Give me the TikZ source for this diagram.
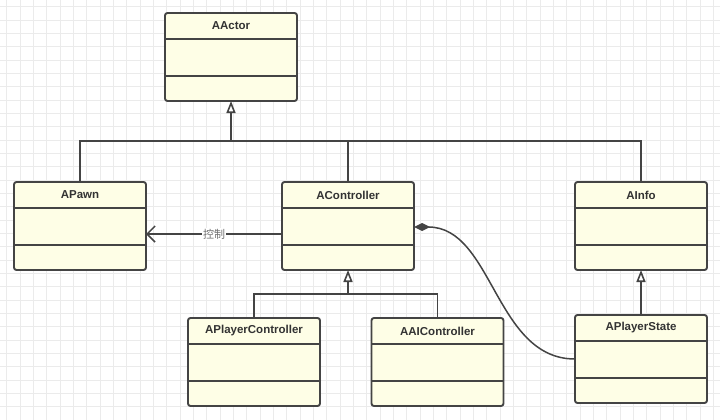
\documentclass[tikz,border=0pt]{standalone}
\usepackage{fontspec}
\setmainfont{Liberation Sans}
\newfontfamily\cjkfont{Noto Sans CJK SC}
\usetikzlibrary{arrows.meta}
\definecolor{boxfill}{HTML}{FEFEE6}
\definecolor{boxline}{HTML}{444444}
\definecolor{gridc}{HTML}{EBEBEB}
\definecolor{titlec}{HTML}{333333}
\definecolor{labelc}{HTML}{707070}
\tikzset{
  classbox/.style={draw=boxline, fill=boxfill, line width=1.9pt, rounded corners=2.5pt,
    minimum width=132pt, minimum height=88pt, inner sep=0pt, outer sep=0pt},
  titletext/.style={font=\bfseries\fontsize{11.5}{13}\selectfont, text=titlec, inner sep=0pt},
  sepline/.style={draw=boxline, line width=1.8pt},
  conn/.style={draw=boxline, line width=1.8pt},
  inherit/.style={conn, -{Triangle[open, length=12pt, width=9pt, line width=1.6pt]}},
}
\newcommand\umlbox[4]{%
  \node[classbox] (#1) at (#2,#3) {};
  \node[titletext] (#1-t) at ([yshift=-13pt]#1.north) {#4};
  \draw[sepline] ([yshift=-26pt]#1.north west) -- ([yshift=-26pt]#1.north east);
  \draw[sepline] ([yshift=-63pt]#1.north west) -- ([yshift=-63pt]#1.north east);
}
\begin{document}
\begin{tikzpicture}[x=1pt,y=-1pt]
\useasboundingbox (0,0) rectangle (720,420);
\fill[white] (0,0) rectangle (720,420);
\foreach \i in {0,...,54} {
  \draw[gridc, line width=0.8pt] (6.67+13.333*\i,0) -- (6.67+13.333*\i,420);
}
\foreach \i in {0,...,31} {
  \draw[gridc, line width=0.8pt] (0,6.67+13.333*\i) -- (720,6.67+13.333*\i);
}

\umlbox{AActor}{231}{57}{AActor}
\umlbox{APawn}{80}{226}{APawn}
\umlbox{AController}{348}{226}{AController}
\umlbox{AInfo}{641}{226}{AInfo}
\umlbox{APlayerController}{254}{362}{APlayerController}
\umlbox{AAIController}{437.5}{362}{AAIController}
\umlbox{APlayerState}{641}{359}{APlayerState}

% AActor hierarchy
\coordinate (j1) at (231,141);
\draw[conn] (APawn.north) |- (j1) -| (AInfo.north);
\draw[conn] (AController.north) -- (AController.north |- j1);
\draw[inherit] (j1) -- (AActor.south);

% AController hierarchy
\coordinate (j2) at (348,294);
\draw[conn] (APlayerController.north) |- (j2) -| (AAIController.north);
\draw[inherit] (j2) -- (AController.south);

% APlayerState -> AInfo
\draw[inherit] (APlayerState.north) -- (AInfo.south);

% control association
\draw[conn, line width=1.5pt, -{Straight Barb[length=8pt, width=16pt, line width=1.5pt]}]
  ([yshift=-8pt]AController.west) -- node[fill=white, inner sep=1pt, text=labelc,
  font=\cjkfont\fontsize{11}{13}\selectfont] (ctl) {控制} ([yshift=-8pt]APawn.east);

% composition
\draw[conn, line width=1.5pt, {Diamond[length=16pt, width=8pt]}-]
  ([yshift=-1pt]AController.east) .. controls (493,227) and (495,359) .. (APlayerState.west);
\end{tikzpicture}
\end{document}
